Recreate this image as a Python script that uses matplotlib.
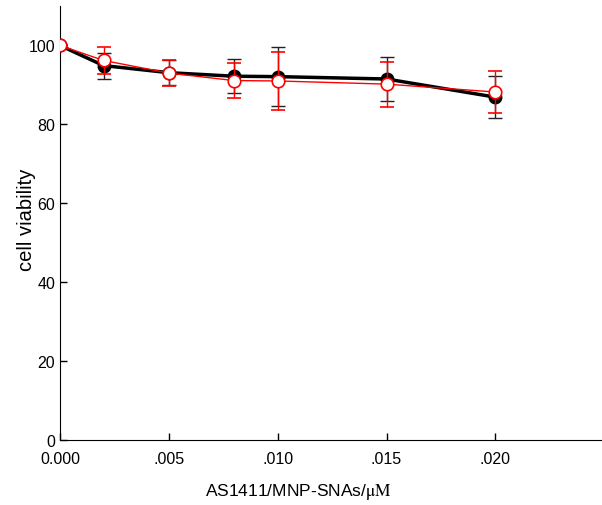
import numpy as np
import matplotlib.pyplot as plt
from matplotlib.ticker import FuncFormatter

plt.rcParams['font.family'] = ['Liberation Sans', 'DejaVu Sans']
plt.rcParams['mathtext.fontset'] = 'stix'

# concentracion (uM)
conc = [0.0, 0.002, 0.005, 0.008, 0.010, 0.015, 0.020]

# serie negra (puntos llenos)
viab_black = [100.0, 94.9, 93.1, 92.2, 92.1, 91.5, 86.9]
err_black = [0.0, 3.3, 3.1, 4.3, 7.4, 5.6, 5.4]

# serie roja (circulos abiertos)
viab_red = [100.0, 96.2, 93.0, 91.1, 91.0, 90.2, 88.2]
err_red = [0.0, 3.4, 3.2, 4.5, 7.4, 5.7, 5.4]

xticks = [0.0, 0.005, 0.010, 0.015, 0.020]
yticks = [0, 20, 40, 60, 80, 100]


def fmt_x(v, pos):
    if v == 0:
        return '0.000'
    return ('%.3f' % v).lstrip('0')


fig = plt.figure(figsize=(6.02, 5.06), dpi=100)
ax = fig.add_axes([60 / 602, 65 / 506, 542 / 602, 434 / 506])

ax.errorbar(conc, viab_black, yerr=err_black, color='black', lw=2.5,
            marker='o', ms=9, mfc='black', mec='black',
            ecolor='#222222', elinewidth=1, capsize=5, capthick=1, zorder=2)
ax.errorbar(conc, viab_red, yerr=err_red, color='red', lw=1,
            marker='o', ms=9, mfc='white', mec='red', mew=1.2,
            ecolor='red', elinewidth=1, capsize=5, capthick=1, zorder=3)

ax.set_xlim(0, 0.0249)
ax.set_ylim(0, 110)
ax.set_xticks(xticks)
ax.set_yticks(yticks)
ax.xaxis.set_major_formatter(FuncFormatter(fmt_x))
ax.tick_params(direction='in', length=5, labelsize=11.5, width=1)
ax.tick_params(axis='x', pad=8)
ax.spines['top'].set_visible(False)
ax.spines['right'].set_visible(False)

ax.set_xlabel(r'AS1411/MNP-SNAs/$\mathrm{\mu M}$', fontsize=12.5)
ax.xaxis.set_label_coords((298 - 60) / 542, -0.095)
ax.set_ylabel('cell viability', fontsize=14.5)
ax.yaxis.set_label_coords(-0.045, 0.51)

fig.savefig('out.png', dpi=100)
